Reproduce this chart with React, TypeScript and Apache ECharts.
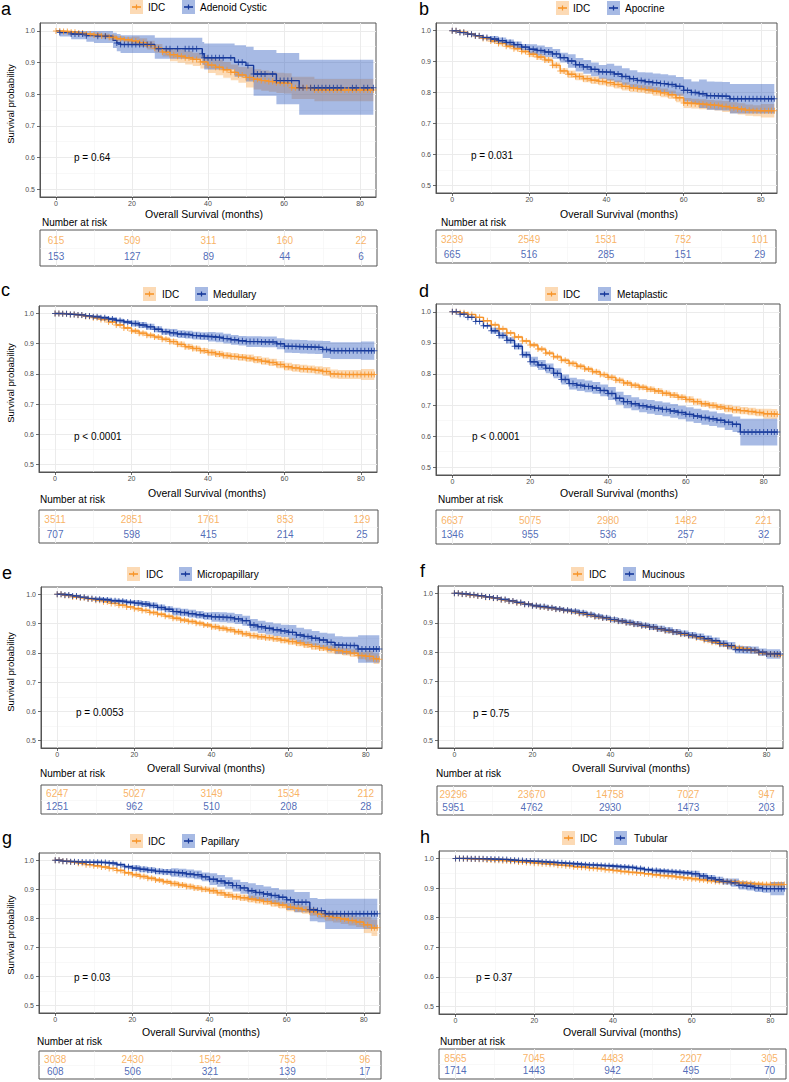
import React, { useEffect, useRef } from "react";
import * as echarts from "echarts";

// ---------- axes ----------
const X_MIN = -4.2;
const X_MAX = 84.2;
const Y_MIN = 0.475;
const Y_MAX = 1.025;
const X_TICKS = [0, 20, 40, 60, 80];
const X_MINOR = [10, 30, 50, 70];
const Y_TICKS = [0.5, 0.6, 0.7, 0.8, 0.9, 1.0];
const Y_MINOR = [0.55, 0.65, 0.75, 0.85, 0.95];

// survival read every 2 months (last point = end of follow-up)
const MONTHS = [0, 2, 4, 6, 8, 10, 12, 14, 16, 18, 20, 22, 24, 26, 28, 30, 32, 34, 36, 38, 40, 42, 44, 46, 48, 50, 52, 54, 56, 58, 60, 62, 64, 66, 68, 70, 72, 74, 76, 78, 80, 82, 83.5];
const WIDTH_TIMES = [0, 10, 20, 30, 40, 50, 60, 70, 80];

// ---------- panel a ----------
const A_IDC_S = [1.000, 0.998, 0.996, 0.993, 0.990, 0.987, 0.984, 0.980, 0.975, 0.972,
  0.968, 0.963, 0.955, 0.945, 0.933, 0.925, 0.920, 0.915, 0.910, 0.902,
  0.892, 0.885, 0.877, 0.869, 0.861, 0.853, 0.847, 0.843, 0.840, 0.836,
  0.834, 0.820, 0.820, 0.820, 0.813, 0.813, 0.813, 0.813, 0.813, 0.813,
  0.813, 0.813, 0.813];
const A_IDC_WT = [0, 10, 20, 30, 40, 50, 62];
const A_IDC_W = [0, 0.008, 0.014, 0.021, 0.025, 0.032, 0.035];
const A_ACC_T = [0, 1, 4, 8, 10, 15, 16, 17, 26, 38.5, 39, 47, 50, 52, 58, 64, 83.5];
const A_ACC_S = [1, 0.995, 0.99, 0.985, 0.983, 0.97, 0.962, 0.957, 0.944, 0.928, 0.915, 0.901, 0.891, 0.864, 0.843, 0.82, 0.82];
const A_ACC_LO = [1, 0.982, 0.974, 0.966, 0.962, 0.946, 0.936, 0.93, 0.912, 0.893, 0.878, 0.855, 0.84, 0.795, 0.768, 0.735, 0.735];
const A_ACC_HI = [1, 1, 1, 1, 1, 0.994, 0.99, 0.986, 0.978, 0.965, 0.96, 0.955, 0.95, 0.94, 0.93, 0.909, 0.909];
const A_ACC_CENSOR = [1, 4, 5, 6, 7, 8, 11, 13, 16, 17, 18, 19, 20, 21, 22, 23, 24, 25, 27, 29, 30, 32, 34, 35, 36, 37, 38.5, 39, 40, 41, 42, 43, 44, 46, 48, 49, 50.5, 52, 53, 54, 55, 57, 58, 59, 60, 61, 62, 64, 65, 67, 68, 69, 70, 71, 72, 73, 74, 75, 78, 79, 81, 82, 83.5];
const A_RISK_IDC = [615, 509, 311, 160, 22];
const A_RISK_OTH = [153, 127, 89, 44, 6];

// ---------- panel b ----------
const B_IDC_S = [1.000, 0.995, 0.989, 0.983, 0.975, 0.967, 0.959, 0.950, 0.942, 0.933,
  0.924, 0.915, 0.905, 0.888, 0.870, 0.859, 0.852, 0.845, 0.840, 0.836,
  0.832, 0.826, 0.820, 0.815, 0.812, 0.809, 0.804, 0.799, 0.793, 0.783,
  0.766, 0.764, 0.762, 0.760, 0.758, 0.755, 0.751, 0.747, 0.743, 0.741,
  0.741, 0.741, 0.741];
const B_IDC_W = [0, 0.006, 0.009, 0.012, 0.013, 0.014, 0.016, 0.018, 0.022];
const B_APO_S = [1.000, 0.994, 0.989, 0.984, 0.978, 0.973, 0.968, 0.962, 0.955, 0.947,
  0.940, 0.936, 0.931, 0.925, 0.913, 0.902, 0.890, 0.883, 0.875, 0.867,
  0.866, 0.860, 0.852, 0.845, 0.839, 0.835, 0.832, 0.829, 0.826, 0.820,
  0.807, 0.800, 0.796, 0.790, 0.789, 0.788, 0.780, 0.780, 0.780, 0.780,
  0.780, 0.780, 0.780];
const B_APO_WT = [0, 10, 20, 30, 40, 50, 60, 64, 72];
const B_APO_W = [0, 0.01, 0.016, 0.022, 0.027, 0.03, 0.036, 0.046, 0.048];
const B_RISK_IDC = [3239, 2549, 1531, 752, 101];
const B_RISK_OTH = [665, 516, 285, 151, 29];

// ---------- panel c ----------
const C_IDC_S = [1.000, 0.999, 0.997, 0.994, 0.990, 0.986, 0.980, 0.972, 0.962, 0.952,
  0.942, 0.935, 0.928, 0.922, 0.915, 0.907, 0.898, 0.890, 0.884, 0.877,
  0.871, 0.866, 0.861, 0.858, 0.855, 0.852, 0.847, 0.842, 0.838, 0.831,
  0.824, 0.820, 0.817, 0.815, 0.812, 0.808, 0.800, 0.798, 0.798, 0.798,
  0.798, 0.798, 0.798];
const C_IDC_W = [0, 0.004, 0.007, 0.009, 0.011, 0.012, 0.013, 0.015, 0.018];
const C_MED_S = [1.000, 0.999, 0.997, 0.995, 0.992, 0.989, 0.986, 0.982, 0.977, 0.972,
  0.967, 0.962, 0.956, 0.948, 0.940, 0.936, 0.932, 0.930, 0.927, 0.925,
  0.923, 0.921, 0.917, 0.913, 0.910, 0.907, 0.907, 0.906, 0.906, 0.900,
  0.892, 0.891, 0.890, 0.889, 0.888, 0.881, 0.877, 0.877, 0.877, 0.877,
  0.877, 0.877, 0.877];
const C_MED_W = [0, 0.006, 0.01, 0.013, 0.016, 0.018, 0.022, 0.028, 0.03];
const C_RISK_IDC = [3511, 2851, 1761, 853, 129];
const C_RISK_OTH = [707, 598, 415, 214, 25];

// ---------- panel d ----------
const D_IDC_S = [1.000, 0.997, 0.991, 0.982, 0.971, 0.958, 0.945, 0.932, 0.919, 0.906,
  0.893, 0.880, 0.867, 0.855, 0.844, 0.834, 0.825, 0.816, 0.807, 0.798,
  0.789, 0.780, 0.771, 0.764, 0.757, 0.751, 0.745, 0.738, 0.732, 0.725,
  0.718, 0.711, 0.704, 0.699, 0.694, 0.689, 0.685, 0.682, 0.679, 0.676,
  0.672, 0.671, 0.670];
const D_IDC_W = [0, 0.004, 0.006, 0.007, 0.008, 0.009, 0.01, 0.012, 0.016];
const D_MET_S = [1.000, 0.992, 0.982, 0.969, 0.955, 0.939, 0.924, 0.908, 0.889, 0.862,
  0.839, 0.829, 0.818, 0.802, 0.782, 0.769, 0.764, 0.760, 0.755, 0.747,
  0.737, 0.722, 0.711, 0.704, 0.698, 0.694, 0.690, 0.686, 0.681, 0.676,
  0.670, 0.665, 0.660, 0.656, 0.651, 0.645, 0.638, 0.613, 0.613, 0.613,
  0.613, 0.613, 0.613];
const D_MET_WT = [0, 10, 20, 30, 40, 50, 60, 70, 74];
const D_MET_W = [0, 0.01, 0.016, 0.019, 0.021, 0.022, 0.023, 0.025, 0.043];
const D_RISK_IDC = [6637, 5075, 2980, 1482, 221];
const D_RISK_OTH = [1346, 955, 536, 257, 32];

// ---------- panel e ----------
const E_IDC_S = [1.000, 0.996, 0.991, 0.988, 0.984, 0.980, 0.975, 0.969, 0.963, 0.957,
  0.951, 0.945, 0.938, 0.932, 0.925, 0.918, 0.912, 0.907, 0.901, 0.895,
  0.889, 0.884, 0.879, 0.872, 0.865, 0.859, 0.855, 0.852, 0.848, 0.843,
  0.839, 0.834, 0.828, 0.822, 0.817, 0.812, 0.808, 0.804, 0.799, 0.791,
  0.788, 0.780, 0.778];
const E_IDC_W = [0, 0.004, 0.006, 0.007, 0.009, 0.01, 0.011, 0.013, 0.018];
const E_MIC_S = [1.000, 0.998, 0.994, 0.990, 0.986, 0.983, 0.981, 0.978, 0.976, 0.973,
  0.970, 0.967, 0.962, 0.955, 0.949, 0.941, 0.938, 0.934, 0.930, 0.926,
  0.923, 0.922, 0.920, 0.916, 0.910, 0.895, 0.889, 0.884, 0.879, 0.875,
  0.870, 0.861, 0.856, 0.850, 0.844, 0.836, 0.827, 0.825, 0.825, 0.813,
  0.813, 0.813, 0.813];
const E_MIC_WT = [0, 10, 20, 30, 40, 50, 60, 70, 78];
const E_MIC_W = [0, 0.007, 0.01, 0.013, 0.017, 0.021, 0.025, 0.03, 0.047];
const E_RISK_IDC = [6247, 5027, 3149, 1534, 212];
const E_RISK_OTH = [1251, 962, 510, 208, 28];

// ---------- panel f ----------
const F_IDC_S = [1.000, 0.997, 0.994, 0.991, 0.987, 0.983, 0.978, 0.973, 0.968, 0.963,
  0.958, 0.954, 0.950, 0.946, 0.942, 0.938, 0.932, 0.927, 0.921, 0.916,
  0.910, 0.905, 0.900, 0.895, 0.890, 0.885, 0.879, 0.873, 0.868, 0.862,
  0.856, 0.849, 0.841, 0.834, 0.827, 0.820, 0.815, 0.811, 0.806, 0.798,
  0.794, 0.792, 0.790];
const F_IDC_W = [0, 0.002, 0.003, 0.003, 0.004, 0.004, 0.005, 0.006, 0.009];
const F_MUC_S = [1.000, 0.998, 0.995, 0.992, 0.988, 0.984, 0.979, 0.974, 0.969, 0.963,
  0.958, 0.955, 0.951, 0.947, 0.943, 0.939, 0.934, 0.928, 0.922, 0.917,
  0.911, 0.906, 0.901, 0.896, 0.891, 0.886, 0.880, 0.875, 0.869, 0.864,
  0.858, 0.853, 0.846, 0.839, 0.830, 0.822, 0.809, 0.808, 0.807, 0.800,
  0.794, 0.794, 0.794];
const F_MUC_W = [0, 0.004, 0.006, 0.008, 0.009, 0.01, 0.011, 0.013, 0.016];
const F_RISK_IDC = [29296, 23670, 14758, 7027, 947];
const F_RISK_OTH = [5951, 4762, 2930, 1473, 203];

// ---------- panel g ----------
const G_IDC_S = [1.000, 0.997, 0.994, 0.990, 0.985, 0.981, 0.977, 0.972, 0.965, 0.957,
  0.950, 0.944, 0.938, 0.932, 0.926, 0.920, 0.915, 0.910, 0.905, 0.900,
  0.895, 0.888, 0.881, 0.875, 0.871, 0.867, 0.863, 0.858, 0.852, 0.846,
  0.839, 0.835, 0.830, 0.823, 0.815, 0.807, 0.803, 0.798, 0.793, 0.788,
  0.778, 0.768, 0.768];
const G_IDC_W = [0, 0.004, 0.007, 0.009, 0.011, 0.012, 0.014, 0.017, 0.028];
const G_PAP_S = [1.000, 0.997, 0.995, 0.994, 0.993, 0.993, 0.992, 0.990, 0.985, 0.978,
  0.973, 0.969, 0.966, 0.962, 0.960, 0.958, 0.956, 0.953, 0.950, 0.943,
  0.935, 0.929, 0.922, 0.913, 0.905, 0.895, 0.889, 0.884, 0.879, 0.873,
  0.864, 0.856, 0.856, 0.830, 0.827, 0.816, 0.816, 0.816, 0.816, 0.816,
  0.816, 0.816, 0.816];
const G_PAP_WT = [0, 10, 20, 30, 40, 50, 60, 66, 70];
const G_PAP_W = [0, 0.005, 0.01, 0.015, 0.02, 0.026, 0.035, 0.04, 0.052];
const G_RISK_IDC = [3038, 2430, 1542, 753, 96];
const G_RISK_OTH = [608, 506, 321, 139, 17];

// ---------- panel h ----------
const H_IDC_S = [1.000, 0.999, 0.998, 0.997, 0.995, 0.994, 0.992, 0.990, 0.988, 0.986,
  0.984, 0.982, 0.980, 0.977, 0.975, 0.972, 0.970, 0.967, 0.965, 0.962,
  0.959, 0.956, 0.953, 0.951, 0.948, 0.945, 0.942, 0.940, 0.937, 0.934,
  0.931, 0.928, 0.925, 0.922, 0.921, 0.920, 0.917, 0.915, 0.913, 0.912,
  0.912, 0.912, 0.912];
const H_IDC_W = [0, 0.002, 0.003, 0.004, 0.004, 0.005, 0.006, 0.007, 0.008];
const H_TUB_S = [1.000, 1.000, 0.999, 0.999, 0.998, 0.997, 0.996, 0.994, 0.993, 0.991,
  0.990, 0.988, 0.986, 0.985, 0.983, 0.981, 0.979, 0.978, 0.976, 0.975,
  0.973, 0.971, 0.969, 0.966, 0.962, 0.959, 0.957, 0.955, 0.953, 0.951,
  0.948, 0.941, 0.934, 0.928, 0.922, 0.918, 0.909, 0.906, 0.901, 0.898,
  0.898, 0.898, 0.898];
const H_TUB_W = [0, 0.002, 0.004, 0.005, 0.006, 0.007, 0.01, 0.014, 0.022];
const H_RISK_IDC = [8565, 7045, 4483, 2207, 305];
const H_RISK_OTH = [1714, 1443, 942, 495, 70];

// ---------- styling ----------
const FONT = '"Liberation Sans", Arial, Helvetica, sans-serif';
const IDC_LINE = "#F7952A";
const IDC_BAND = "rgba(247,150,44,0.35)";
const OTH_LINE = "#16399B";
const OTH_BAND = "rgba(46,91,191,0.42)";
const TAB_ORANGE = "#F7A03C";
const TAB_BLUE = "#2446A6";
const GRID_MAJOR = "#EBEBEB";
const GRID_MINOR = "#F3F3F3";
const BORDER = "#555555";
const PLUS = "path://M-0.17,-1 L0.17,-1 L0.17,-0.17 L1,-0.17 L1,0.17 L0.17,0.17 L0.17,1 L-0.17,1 L-0.17,0.17 L-1,0.17 L-1,-0.17 L-0.17,-0.17 Z";

type Curve = { t: number[]; s: number[]; lo: number[]; hi: number[]; marks: number[][] };

function stepValue(T: number[], V: number[], t: number): number {
  let v = V[0];
  for (let i = 0; i < T.length; i++) {
    if (T[i] <= t + 1e-9) v = V[i];
    else break;
  }
  return v;
}

function makeMarks(t: number[], s: number[], censor?: number[]): number[][] {
  if (censor) return censor.map((c) => [c, stepValue(t, s, c)]);
  const m: number[][] = [];
  for (let i = 0; i < t.length; i++) {
    m.push([t[i], s[i]]);
    if (i < t.length - 1) m.push([(t[i] + t[i + 1]) / 2, s[i]]);
  }
  return m;
}

function withWidth(t: number[], s: number[], wt: number[], w: number[]): Curve {
  return {
    t,
    s,
    lo: t.map((x, i) => s[i] - stepValue(wt, w, x)),
    hi: t.map((x, i) => Math.min(1, s[i] + stepValue(wt, w, x))),
    marks: makeMarks(t, s),
  };
}

type Panel = {
  letter: string; other: string; p: string;
  idc: Curve; oth: Curve; riskIdc: number[]; riskOth: number[];
  plot: { l: number; t: number; w: number; h: number };
  table: { l: number; t: number; w: number; h: number };
  letterPos: [number, number];
  legend: { y: number; sw1: number; t1: number; sw2: number; t2: number };
  xTitle: [number, number];
  nar: [number, number];
  pPos: [number, number];
  yTitle: number | null;
};

const PANELS: Panel[] = [
  {
    letter: "a", other: "Adenoid Cystic", p: "p = 0.64",
    idc: withWidth(MONTHS, A_IDC_S, A_IDC_WT, A_IDC_W),
    oth: { t: A_ACC_T, s: A_ACC_S, lo: A_ACC_LO, hi: A_ACC_HI, marks: makeMarks(A_ACC_T, A_ACC_S, A_ACC_CENSOR) },
    riskIdc: A_RISK_IDC, riskOth: A_RISK_OTH,
    plot: { l: 40, t: 23, w: 336, h: 174 }, table: { l: 40, t: 230, w: 337, h: 36 },
    letterPos: [1, 9], legend: { y: 7, sw1: 130, t1: 148, sw2: 182, t2: 200 },
    xTitle: [204, 214], nar: [42, 222], pPos: [74, 157], yTitle: 104,
  },
  {
    letter: "b", other: "Apocrine", p: "p = 0.031",
    idc: withWidth(MONTHS, B_IDC_S, WIDTH_TIMES, B_IDC_W),
    oth: withWidth(MONTHS, B_APO_S, B_APO_WT, B_APO_W),
    riskIdc: B_RISK_IDC, riskOth: B_RISK_OTH,
    plot: { l: 436, t: 23, w: 341, h: 170 }, table: { l: 436, t: 230, w: 340, h: 33 },
    letterPos: [419, 9], legend: { y: 8, sw1: 556, t1: 573, sw2: 607, t2: 625 },
    xTitle: [619, 214], nar: [441, 222], pPos: [471, 155], yTitle: null,
  },
  {
    letter: "c", other: "Medullary", p: "p < 0.0001",
    idc: withWidth(MONTHS, C_IDC_S, WIDTH_TIMES, C_IDC_W),
    oth: withWidth(MONTHS, C_MED_S, WIDTH_TIMES, C_MED_W),
    riskIdc: C_RISK_IDC, riskOth: C_RISK_OTH,
    plot: { l: 39, t: 306, w: 338, h: 166 }, table: { l: 39, t: 510, w: 339, h: 33 },
    letterPos: [1, 290], legend: { y: 294, sw1: 143, t1: 162, sw2: 195, t2: 213 },
    xTitle: [207, 493], nar: [40, 499], pPos: [74, 436], yTitle: 383,
  },
  {
    letter: "d", other: "Metaplastic", p: "p < 0.0001",
    idc: withWidth(MONTHS, D_IDC_S, WIDTH_TIMES, D_IDC_W),
    oth: withWidth(MONTHS, D_MET_S, D_MET_WT, D_MET_W),
    riskIdc: D_RISK_IDC, riskOth: D_RISK_OTH,
    plot: { l: 436, t: 304, w: 344, h: 171 }, table: { l: 436, t: 510, w: 344, h: 34 },
    letterPos: [419, 291], legend: { y: 294, sw1: 545, t1: 563, sw2: 598, t2: 617 },
    xTitle: [619, 493], nar: [438, 499], pPos: [472, 436], yTitle: null,
  },
  {
    letter: "e", other: "Micropapillary", p: "p = 0.0053",
    idc: withWidth(MONTHS, E_IDC_S, WIDTH_TIMES, E_IDC_W),
    oth: withWidth(MONTHS, E_MIC_S, E_MIC_WT, E_MIC_W),
    riskIdc: E_RISK_IDC, riskOth: E_RISK_OTH,
    plot: { l: 41, t: 587, w: 341, h: 161 }, table: { l: 41, t: 785, w: 341, h: 29 },
    letterPos: [2, 573], legend: { y: 574, sw1: 127, t1: 146, sw2: 179, t2: 197 },
    xTitle: [206, 768], nar: [40, 773], pPos: [76, 712], yTitle: 672,
  },
  {
    letter: "f", other: "Mucinous", p: "p = 0.75",
    idc: withWidth(MONTHS, F_IDC_S, WIDTH_TIMES, F_IDC_W),
    oth: withWidth(MONTHS, F_MUC_S, WIDTH_TIMES, F_MUC_W),
    riskIdc: F_RISK_IDC, riskOth: F_RISK_OTH,
    plot: { l: 438, t: 586, w: 345, h: 162 }, table: { l: 437, t: 786, w: 346, h: 29 },
    letterPos: [420, 571], legend: { y: 574, sw1: 571, t1: 589, sw2: 623, t2: 642 },
    xTitle: [631, 768], nar: [436, 773], pPos: [473, 713], yTitle: null,
  },
  {
    letter: "g", other: "Papillary", p: "p = 0.03",
    idc: withWidth(MONTHS, G_IDC_S, WIDTH_TIMES, G_IDC_W),
    oth: withWidth(MONTHS, G_PAP_S, G_PAP_WT, G_PAP_W),
    riskIdc: G_RISK_IDC, riskOth: G_RISK_OTH,
    plot: { l: 39, t: 853, w: 341, h: 160 }, table: { l: 39, t: 1051, w: 342, h: 28 },
    letterPos: [2, 838], legend: { y: 841, sw1: 130, t1: 148, sw2: 182, t2: 201 },
    xTitle: [201, 1032], nar: [37, 1041], pPos: [74, 977], yTitle: 935,
  },
  {
    letter: "h", other: "Tubular", p: "p = 0.37",
    idc: withWidth(MONTHS, H_IDC_S, WIDTH_TIMES, H_IDC_W),
    oth: withWidth(MONTHS, H_TUB_S, WIDTH_TIMES, H_TUB_W),
    riskIdc: H_RISK_IDC, riskOth: H_RISK_OTH,
    plot: { l: 439, t: 851, w: 348, h: 163 }, table: { l: 439, t: 1049, w: 347, h: 30 },
    letterPos: [420, 837], legend: { y: 838, sw1: 562, t1: 580, sw2: 614, t2: 634 },
    xTitle: [622, 1032], nar: [440, 1041], pPos: [476, 977], yTitle: null,
  },
];

function text(x: number, y: number, str: string, size: number, opts: any = {}) {
  const align = opts.align || "left";
  return {
    type: "text",
    x,
    y,
    z: 100,
    rotation: opts.rotation || 0,
    silent: true,
    style: {
      text: str,
      fill: opts.color || "#000",
      font: `${size}px ${FONT}`,
      align,
      verticalAlign: "middle",
      textAlign: align,
      textVerticalAlign: "middle",
    },
  };
}

function bandSeries(c: Curve, idx: number, fill: string) {
  return {
    type: "custom",
    xAxisIndex: idx,
    yAxisIndex: idx,
    data: [[40, 0.75]],
    z: 1,
    silent: true,
    clip: true,
    renderItem: (_p: any, api: any) => {
      const pts: number[][] = [];
      const n = c.t.length;
      for (let i = 0; i < n - 1; i++) {
        pts.push(api.coord([c.t[i], c.hi[i]]));
        pts.push(api.coord([c.t[i + 1], c.hi[i]]));
      }
      for (let i = n - 2; i >= 0; i--) {
        pts.push(api.coord([c.t[i + 1], c.lo[i]]));
        pts.push(api.coord([c.t[i], c.lo[i]]));
      }
      return { type: "polygon", shape: { points: pts }, style: { fill, stroke: "none" } };
    },
  };
}

function lineSeries(c: Curve, idx: number, color: string) {
  return {
    type: "line",
    xAxisIndex: idx,
    yAxisIndex: idx,
    data: c.t.map((t, i) => [t, c.s[i]]),
    step: "end",
    showSymbol: false,
    symbol: "none",
    silent: true,
    z: 3,
    lineStyle: { color, width: 1.4 },
    itemStyle: { color },
  };
}

function markSeries(c: Curve, idx: number, color: string) {
  return {
    type: "scatter",
    xAxisIndex: idx,
    yAxisIndex: idx,
    data: c.marks,
    symbol: PLUS,
    symbolSize: 6,
    silent: true,
    z: 4,
    itemStyle: { color },
  };
}

function gridLineData(xMaj: number[], xMin: number[], yMaj: number[], yMin: number[]) {
  const d: any[] = [];
  xMin.forEach((v) => d.push({ xAxis: v, lineStyle: { color: GRID_MINOR, width: 0.6, type: "solid" } }));
  yMin.forEach((v) => d.push({ yAxis: v, lineStyle: { color: GRID_MINOR, width: 0.6, type: "solid" } }));
  xMaj.forEach((v) => d.push({ xAxis: v, lineStyle: { color: GRID_MAJOR, width: 1, type: "solid" } }));
  yMaj.forEach((v) => d.push({ yAxis: v, lineStyle: { color: GRID_MAJOR, width: 1, type: "solid" } }));
  return d;
}

function buildOption() {
  const grid: any[] = [];
  const xAxis: any[] = [];
  const yAxis: any[] = [];
  const series: any[] = [];
  const elements: any[] = [];

  PANELS.forEach((P, k) => {
    const gi = 2 * k;
    const ti = 2 * k + 1;
    grid.push({ left: P.plot.l, top: P.plot.t, width: P.plot.w, height: P.plot.h, show: true, borderColor: BORDER, borderWidth: 1, backgroundColor: "rgba(0,0,0,0)" });
    grid.push({ left: P.table.l, top: P.table.t, width: P.table.w, height: P.table.h, show: true, borderColor: BORDER, borderWidth: 1, backgroundColor: "rgba(0,0,0,0)" });

    xAxis.push({
      gridIndex: gi, type: "value", min: X_MIN, max: X_MAX,
      axisLine: { show: true, onZero: false, lineStyle: { color: BORDER, width: 1 } },
      axisTick: { show: true, customValues: X_TICKS, length: 3, lineStyle: { color: "#444", width: 0.8 } },
      axisLabel: { customValues: X_TICKS, fontSize: 7, color: "#4D4D4D", margin: 3, fontFamily: FONT },
      splitLine: { show: false },
    });
    xAxis.push({ gridIndex: ti, type: "value", min: X_MIN, max: X_MAX, show: false });
    yAxis.push({
      gridIndex: gi, type: "value", min: Y_MIN, max: Y_MAX,
      axisLine: { show: true, onZero: false, lineStyle: { color: BORDER, width: 1 } },
      axisTick: { show: true, customValues: Y_TICKS, length: 3, lineStyle: { color: "#444", width: 0.8 } },
      axisLabel: { customValues: Y_TICKS, fontSize: 7, color: "#4D4D4D", margin: 5, fontFamily: FONT, formatter: (v: number) => v.toFixed(1) },
      splitLine: { show: false },
    });
    yAxis.push({ gridIndex: ti, type: "value", min: 0, max: 1, show: false });

    // grid lines of the survival panel
    series.push({
      type: "line", xAxisIndex: gi, yAxisIndex: gi, data: [[X_MIN, Y_MIN]],
      showSymbol: false, symbol: "none", silent: true, z: 0,
      lineStyle: { width: 0, opacity: 0 },
      markLine: { silent: true, symbol: ["none", "none"], z: 0, animation: false, label: { show: false }, data: gridLineData(X_TICKS, X_MINOR, Y_TICKS, Y_MINOR) },
    });
    series.push(bandSeries(P.idc, gi, IDC_BAND));
    series.push(bandSeries(P.oth, gi, OTH_BAND));
    series.push(lineSeries(P.idc, gi, IDC_LINE));
    series.push(lineSeries(P.oth, gi, OTH_LINE));
    series.push(markSeries(P.idc, gi, IDC_LINE));
    series.push(markSeries(P.oth, gi, OTH_LINE));

    // risk table
    const tableLabel = (color: string) => ({
      show: true, position: "inside", color, fontSize: 10, fontFamily: FONT,
      formatter: (p: any) => String(p.value[2]),
    });
    series.push({
      type: "scatter", xAxisIndex: ti, yAxisIndex: ti,
      data: X_TICKS.map((x, i) => [x, 0.7, P.riskIdc[i]]),
      symbolSize: 1, silent: true, z: 3,
      itemStyle: { color: "rgba(0,0,0,0)" },
      label: tableLabel(TAB_ORANGE),
      markLine: { silent: true, symbol: ["none", "none"], z: 0, animation: false, label: { show: false }, data: gridLineData(X_TICKS, X_MINOR, [], [0.485]) },
    });
    series.push({
      type: "scatter", xAxisIndex: ti, yAxisIndex: ti,
      data: X_TICKS.map((x, i) => [x, 0.27, P.riskOth[i]]),
      symbolSize: 1, silent: true, z: 3,
      itemStyle: { color: "rgba(0,0,0,0)" },
      label: tableLabel(TAB_BLUE),
    });

    // texts
    elements.push(text(P.letterPos[0], P.letterPos[1], P.letter, 18));
    elements.push(text(P.xTitle[0], P.xTitle[1], "Overall Survival (months)", 10.5, { align: "center" }));
    elements.push(text(P.nar[0], P.nar[1], "Number at risk", 10));
    elements.push(text(P.pPos[0], P.pPos[1], P.p, 10));
    if (P.yTitle !== null) {
      elements.push(text(10, P.yTitle, "Survival probability", 9.5, { align: "center", rotation: Math.PI / 2 }));
    }
    // legend
    const L = P.legend;
    const keys = [
      { sw: L.sw1, tx: L.t1, band: IDC_BAND, line: IDC_LINE, label: "IDC" },
      { sw: L.sw2, tx: L.t2, band: OTH_BAND, line: OTH_LINE, label: P.other },
    ];
    keys.forEach((kk) => {
      elements.push({ type: "rect", silent: true, shape: { x: kk.sw, y: L.y - 7, width: 13, height: 14 }, style: { fill: kk.band } });
      elements.push({ type: "line", silent: true, shape: { x1: kk.sw + 2, y1: L.y, x2: kk.sw + 11, y2: L.y }, style: { stroke: kk.line, lineWidth: 1.6 } });
      elements.push({ type: "line", silent: true, shape: { x1: kk.sw + 6.5, y1: L.y - 2.5, x2: kk.sw + 6.5, y2: L.y + 2.5 }, style: { stroke: kk.line, lineWidth: 1.2 } });
      elements.push(text(kk.tx, L.y, kk.label, 10));
    });
  });

  return {
    animation: false,
    backgroundColor: "#ffffff",
    grid,
    xAxis,
    yAxis,
    series,
    graphic: { elements },
  };
}

export default function App() {
  const ref = useRef<HTMLDivElement>(null);
  useEffect(() => {
    if (!ref.current) return;
    const chart = echarts.init(ref.current, null, { renderer: "svg" });
    chart.setOption(buildOption() as any);
    return () => chart.dispose();
  }, []);
  return (
    <div
      ref={ref}
      style={{ position: "absolute", left: 0, top: 0, width: 789, height: 1082, background: "#fff" }}
    />
  );
}
